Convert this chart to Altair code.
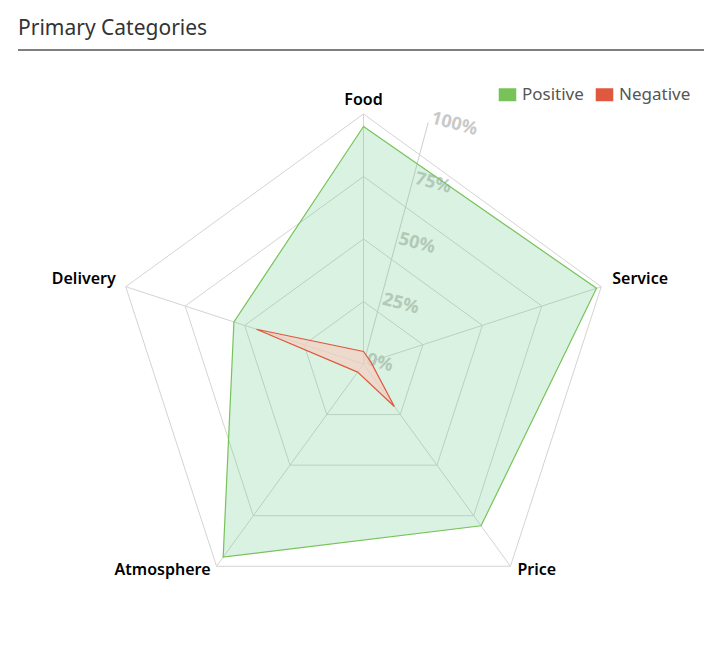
import altair as alt
import pandas as pd

# ---------------- data ----------------
categories = ["Food", "Service", "Price", "Atmosphere", "Delivery"]
positive = [95, 98, 80, 95.5, 54.5]
negative = [5, 3, 21, 4, 45]
series_names = ["Positive", "Negative"]
series_colors = ["#77c35a", "#e0583f"]
grid_levels = [25, 50, 75, 100]
tick_values = [0, 25, 50, 75, 100]
tick_labels = ["0%", "25%", "50%", "75%", "100%"]
title_text = "Primary Categories"

rows = []
for s, vals in zip(series_names, [positive, negative]):
    for i, (c, v) in enumerate(zip(categories, vals)):
        rows.append({"series": s, "category": c, "idx": i, "value": v})
poly = pd.DataFrame(rows)
grid = pd.DataFrame([{"level": L, "idx": i, "category": c}
                     for L in grid_levels for i, c in enumerate(categories)])
spokes = pd.DataFrame({"category": categories, "idx": list(range(len(categories))), "value": [100] * len(categories)})
ticks = pd.DataFrame({"value": tick_values, "label": tick_labels})
one = pd.DataFrame({"t": [title_text]})

# ---------------- layout ----------------
W, H = 696, 636
CX, CY, R = 355.5, 356.0, 250.0
N = len(categories)
xs = alt.Scale(domain=[-CX / R, (W - CX) / R], nice=False, zero=False)
ys = alt.Scale(domain=[-(H - CY) / R, CY / R], nice=False, zero=False)
FONT = "Noto Sans"

def polar(ch, valfield="value"):
    return ch.transform_calculate(
        px=f"datum.{valfield} / 100 * sin(datum.idx * 2 * PI / {N})",
        py=f"datum.{valfield} / 100 * cos(datum.idx * 2 * PI / {N})",
    )

X = alt.X("px:Q", scale=xs, axis=None)
Y = alt.Y("py:Q", scale=ys, axis=None)

# grid rings
rings = polar(alt.Chart(grid), "level").mark_line(
    interpolate="linear-closed", stroke="#d4d4d4", strokeWidth=1
).encode(x=X, y=Y, detail="level:N", order="idx:Q")

# spokes
spk = polar(alt.Chart(spokes)).transform_calculate(x0="0", y0="0").mark_rule(
    stroke="#d4d4d4", strokeWidth=1
).encode(x=alt.X("x0:Q", scale=xs, axis=None), y=alt.Y("y0:Q", scale=ys, axis=None),
         x2="px:Q", y2="py:Q")

# radial axis (15 degrees)
ANG = 15
raxis_base = alt.Chart(ticks).transform_calculate(
    px=f"datum.value / 100 * sin({ANG} * PI / 180)",
    py=f"datum.value / 100 * cos({ANG} * PI / 180)",
    x0="0", y0="0",
)
raxis = raxis_base.transform_filter("datum.value == 100").mark_rule(
    stroke="#cfcfcf", strokeWidth=1
).encode(x=alt.X("x0:Q", scale=xs, axis=None), y=alt.Y("y0:Q", scale=ys, axis=None),
         x2="px:Q", y2="py:Q")
rlabels = raxis_base.mark_text(
    angle=ANG, align="left", baseline="middle", dx=2, dy=-5,
    font=FONT, fontSize=18, fontWeight="bold", color="#c9c9c9"
).encode(x=X, y=Y, text="label:N")

# fills
fill_pos = polar(alt.Chart(poly)).transform_filter("datum.series == 'Positive'").mark_line(
    interpolate="linear-closed", fill="#64c882", fillOpacity=0.24, strokeWidth=0
).encode(x=X, y=Y, order="idx:Q")
fill_neg = polar(alt.Chart(poly)).transform_filter("datum.series == 'Negative'").mark_line(
    interpolate="linear-closed", fill="#f7cfc4", fillOpacity=0.7, strokeWidth=0
).encode(x=X, y=Y, order="idx:Q")

# strokes
strokes = polar(alt.Chart(poly)).mark_line(interpolate="linear-closed", strokeWidth=1.2).encode(
    x=X, y=Y, order="idx:Q",
    stroke=alt.Stroke("series:N", scale=alt.Scale(domain=series_names, range=series_colors), legend=None),
)

# legend carrier (invisible points)
legend_layer = polar(alt.Chart(poly)).mark_point(filled=True, opacity=0, size=1).encode(
    x=X, y=Y,
    color=alt.Color("series:N", scale=alt.Scale(domain=series_names, range=series_colors),
                    legend=alt.Legend(title=None, orient="none", legendX=491, legendY=78,
                                      direction="horizontal",
                                      symbolType="M-1.35,-1H1.35V1H-1.35Z", symbolSize=169,
                                      symbolOpacity=1, symbolStrokeWidth=0,
                                      labelFont=FONT, labelFontSize=17, labelColor="#555555",
                                      labelOffset=6, columnPadding=11, padding=0)),
)

# category labels
lab_base = polar(alt.Chart(spokes))
def cat_label(names, align, dx, dy):
    cond = " || ".join([f"datum.category == '{n}'" for n in names])
    return lab_base.transform_filter(cond).mark_text(
        align=align, baseline="alphabetic", dx=dx, dy=dy,
        font=FONT, fontSize=16, fontWeight=600, color="#000000"
    ).encode(x=X, y=Y, text="category:N")

lab_food = cat_label(["Food"], "center", 0, -9)
lab_service = cat_label(["Service"], "left", 11, -3)
lab_delivery = cat_label(["Delivery"], "right", -10, -3)
lab_price = cat_label(["Price"], "left", 7, 9)
lab_atmo = cat_label(["Atmosphere"], "right", -6, 9)

# title + separator
title = alt.Chart(one).mark_text(align="left", baseline="alphabetic", font=FONT,
                                 fontSize=21, color="#333333").encode(
    x=alt.value(10), y=alt.value(27), text="t:N")
sep = alt.Chart(one).mark_rule(stroke="#7f7f7f", strokeWidth=2).encode(
    x=alt.value(10), x2=alt.value(W), y=alt.value(42))

chart = alt.layer(
    rings, spk, raxis, rlabels, fill_pos, fill_neg, strokes, legend_layer,
    lab_food, lab_service, lab_delivery, lab_price, lab_atmo, title, sep
).resolve_scale(color="independent", stroke="independent").properties(
    width=W, height=H, autosize=alt.AutoSizeParams(type="none"), padding=0
).configure_view(stroke=None)

chart.save("out.html", embed_options={"renderer": "svg", "actions": False})
